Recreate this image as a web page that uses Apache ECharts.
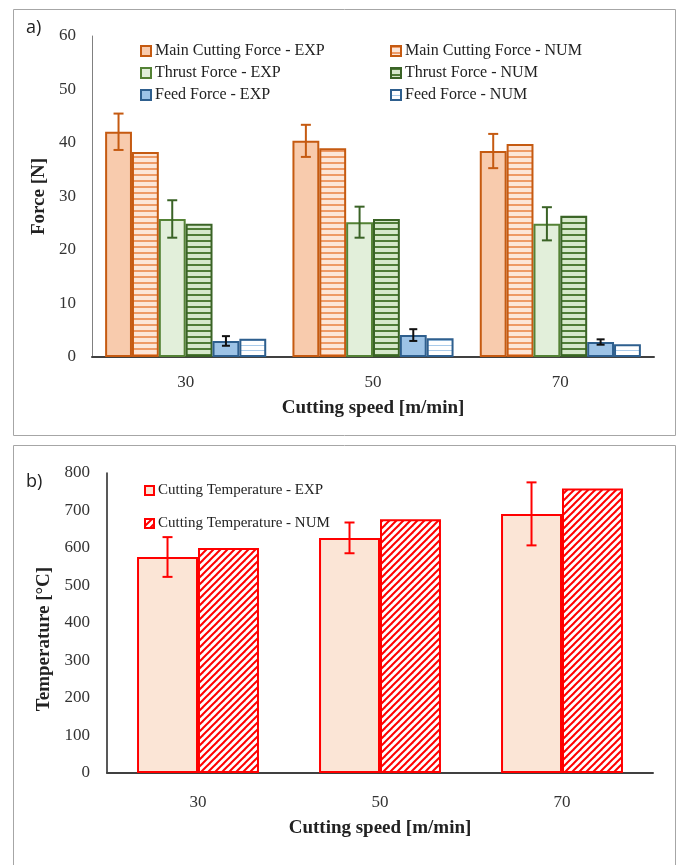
<!DOCTYPE html>
<html>
<head>
<meta charset="utf-8">
<script src="https://cdn.jsdelivr.net/npm/echarts@6/dist/echarts.min.js"></script>
<style>
  html, body { margin: 0; padding: 0; background: #fff; }
  #chart { width: 678px; height: 865px; }
</style>
</head>
<body>
<div id="chart"></div>
<script>
// Cutting speeds (x categories)
const speeds = ['30', '50', '70'];

// Panel a) forces [N]
const mainExp = [42.1, 40.4, 38.5];
const mainExpErr = [3.4, 3.0, 3.2];
const mainNum = [38.3, 39.0, 39.8];
const thrustExp = [25.8, 25.2, 24.9];
const thrustExpErr = [3.5, 2.9, 3.1];
const thrustNum = [24.9, 25.8, 26.4];
const feedExp = [3.0, 4.1, 2.8];
const feedExpErr = [0.9, 1.1, 0.5];
const feedNum = [3.4, 3.5, 2.4];

// Panel b) cutting temperature [°C]
const tempExp = [576, 627, 691];
const tempExpErr = [53, 41, 84];
const tempNum = [600, 677, 759];

const forceTicks = { min: 0, max: 60, interval: 10 };
const tempTicks = { min: 0, max: 800, interval: 100 };

const SERIF = '"Liberation Serif", "Times New Roman", serif';

// Horizontal stripe fill
function hStripes(bg, line, period, lw) {
  const c = document.createElement('canvas');
  c.width = 8; c.height = period;
  const g = c.getContext('2d');
  g.fillStyle = bg; g.fillRect(0, 0, 8, period);
  g.fillStyle = line; g.fillRect(0, 0, 8, lw);
  return { image: c, repeat: 'repeat' };
}
// Diagonal "////" hatch fill
function diagHatch(bg, line, p, lw) {
  const c = document.createElement('canvas');
  c.width = p; c.height = p;
  const g = c.getContext('2d');
  g.fillStyle = bg; g.fillRect(0, 0, p, p);
  g.strokeStyle = line; g.lineWidth = lw;
  for (let k = -1; k <= 1; k++) {
    g.beginPath();
    g.moveTo(k * p - 1, p + 1);
    g.lineTo(k * p + p + 1, -1);
    g.stroke();
  }
  return { image: c, repeat: 'repeat' };
}

const ORANGE = '#C55A11';
const GREEN = '#548235';
const DKGREEN = '#3A6326';
const BLUE = '#2E5F8E';

// Error bar drawn over the idx-th bar of an n-bar group
function errorBars(gridIdx, lows, highs, idx, n, gap, color, cap) {
  const data = lows.map((lo, i) => [i, lo, highs[i]]);
  return {
    type: 'custom',
    xAxisIndex: gridIdx, yAxisIndex: gridIdx,
    z: 10,
    silent: true,
    clip: false,
    data: data,
    renderItem: function (params, api) {
      const c = api.value(0);
      const lo = api.coord([c, api.value(1)]);
      const hi = api.coord([c, api.value(2)]);
      const band = api.size([1, 0])[0];
      const bw = band * (1 - gap) / n;
      const x = lo[0] - bw * n / 2 + bw * (idx + 0.5);
      const st = { stroke: color, lineWidth: 2 };
      return {
        type: 'group',
        children: [
          { type: 'line', shape: { x1: x, y1: lo[1], x2: x, y2: hi[1] }, style: st },
          { type: 'line', shape: { x1: x - cap, y1: lo[1], x2: x + cap, y2: lo[1] }, style: st },
          { type: 'line', shape: { x1: x - cap, y1: hi[1], x2: x + cap, y2: hi[1] }, style: st }
        ]
      };
    }
  };
}

const lows = (v, e) => v.map((x, i) => x - e[i]);
const highs = (v, e) => v.map((x, i) => x + e[i]);

const GAP_A = 0.14;
const GAP_B = 0.33;

function bar(name, data, gridIdx, fill, border, gap) {
  return {
    name: name, type: 'bar', data: data,
    xAxisIndex: gridIdx, yAxisIndex: gridIdx,
    barGap: '0%', barCategoryGap: (gap * 100) + '%',
    itemStyle: { color: fill, borderColor: border, borderWidth: 2 }
  };
}

const axisLabel = { color: '#333', fontFamily: SERIF, fontSize: 17 };
const axisTitle = { color: '#222', fontFamily: SERIF, fontSize: 19, fontWeight: 'bold' };

const chart = echarts.init(document.getElementById('chart'), null, { renderer: 'canvas' });

const option = {
  animation: false,
  backgroundColor: '#fff',
  grid: [
    { left: 92, top: 36, right: 24, height: 321 },
    { left: 107, top: 473, right: 25, height: 300 }
  ],
  xAxis: [
    {
      gridIndex: 0, type: 'category', data: speeds,
      axisLine: { lineStyle: { color: '#404040', width: 2 } },
      axisTick: { show: false },
      axisLabel: Object.assign({ margin: 17 }, axisLabel),
      name: 'Cutting speed [m/min]', nameLocation: 'middle', nameGap: 42,
      nameTextStyle: axisTitle
    },
    {
      gridIndex: 1, type: 'category', data: speeds,
      axisLine: { lineStyle: { color: '#404040', width: 2 } },
      axisTick: { show: false },
      axisLabel: Object.assign({ margin: 21 }, axisLabel),
      name: 'Cutting speed [m/min]', nameLocation: 'middle', nameGap: 46,
      nameTextStyle: axisTitle
    }
  ],
  yAxis: [
    {
      gridIndex: 0, type: 'value',
      min: forceTicks.min, max: forceTicks.max, interval: forceTicks.interval,
      axisLine: { show: true, lineStyle: { color: '#808080', width: 1 } },
      axisTick: { show: false },
      splitLine: { show: false },
      axisLabel: Object.assign({ margin: 16 }, axisLabel),
      name: 'Force [N]', nameLocation: 'middle', nameGap: 37, nameRotate: 90,
      nameTextStyle: axisTitle
    },
    {
      gridIndex: 1, type: 'value',
      min: tempTicks.min, max: tempTicks.max, interval: tempTicks.interval,
      axisLine: { show: true, lineStyle: { color: '#222', width: 1.5 } },
      axisTick: { show: false },
      splitLine: { show: false },
      axisLabel: Object.assign({ margin: 17 }, axisLabel),
      name: 'Temperature [°C]', nameLocation: 'middle', nameGap: 51, nameRotate: 90,
      nameTextStyle: Object.assign({ padding: [0, 32, 0, 0] }, axisTitle)
    }
  ],
  legend: [
    {
      left: 135, top: 38, orient: 'vertical', itemGap: 6,
      icon: 'rect', itemWidth: 10, itemHeight: 10,
      textStyle: { fontFamily: SERIF, fontSize: 16, color: '#222', padding: [0, 0, 0, -1] },
      data: ['Main Cutting Force - EXP', 'Thrust Force - EXP', 'Feed Force - EXP']
    },
    {
      left: 385, top: 38, orient: 'vertical', itemGap: 6,
      icon: 'rect', itemWidth: 10, itemHeight: 10,
      textStyle: { fontFamily: SERIF, fontSize: 16, color: '#222', padding: [0, 0, 0, -1] },
      data: ['Main Cutting Force - NUM', 'Thrust Force - NUM', 'Feed Force - NUM']
    },
    {
      left: 139, top: 478, orient: 'vertical', itemGap: 18,
      icon: 'rect', itemWidth: 9, itemHeight: 9,
      textStyle: { fontFamily: SERIF, fontSize: 15, color: '#222', padding: [0, 0, 0, -1] },
      data: ['Cutting Temperature - EXP', 'Cutting Temperature - NUM']
    }
  ],
  series: [
    bar('Main Cutting Force - EXP', mainExp, 0, '#F8CBAD', ORANGE, GAP_A),
    bar('Main Cutting Force - NUM', mainNum, 0, hStripes('#FCE6D8', '#EE9A66', 6, 2), ORANGE, GAP_A),
    bar('Thrust Force - EXP', thrustExp, 0, '#E2EFDA', GREEN, GAP_A),
    bar('Thrust Force - NUM', thrustNum, 0, hStripes('#D6E8CB', '#4F7C36', 6, 2), DKGREEN, GAP_A),
    bar('Feed Force - EXP', feedExp, 0, '#9DC3E6', BLUE, GAP_A),
    bar('Feed Force - NUM', feedNum, 0, hStripes('#FFFFFF', '#A9CBEA', 5, 1), BLUE, GAP_A),
    errorBars(0, lows(mainExp, mainExpErr), highs(mainExp, mainExpErr), 0, 6, GAP_A, ORANGE, 5),
    errorBars(0, lows(thrustExp, thrustExpErr), highs(thrustExp, thrustExpErr), 2, 6, GAP_A, DKGREEN, 5),
    errorBars(0, lows(feedExp, feedExpErr), highs(feedExp, feedExpErr), 4, 6, GAP_A, '#111', 4),

    bar('Cutting Temperature - EXP', tempExp, 1, '#FBE5D6', '#FF0000', GAP_B),
    bar('Cutting Temperature - NUM', tempNum, 1, diagHatch('#FFFFFF', '#FF0000', 7, 2), '#FF0000', GAP_B),
    errorBars(1, lows(tempExp, tempExpErr), highs(tempExp, tempExpErr), 0, 2, GAP_B, '#FF0000', 5)
  ],
  graphic: [
    { type: 'rect', shape: { x: 13.5, y: 9.5, width: 662, height: 426 },
      style: { fill: 'none', stroke: '#A6A6A6', lineWidth: 1 }, z: -1 },
    { type: 'rect', shape: { x: 13.5, y: 445.5, width: 662, height: 430 },
      style: { fill: 'none', stroke: '#A6A6A6', lineWidth: 1 }, z: -1 },
    { type: 'text', left: 26, top: 19,
      style: { text: 'a)', font: '18px "Open Sans", sans-serif', fill: '#222' } },
    { type: 'text', left: 26, top: 473,
      style: { text: 'b)', font: '18px "Open Sans", sans-serif', fill: '#222' } }
  ]
};

chart.setOption(option);
</script>
</body>
</html>
